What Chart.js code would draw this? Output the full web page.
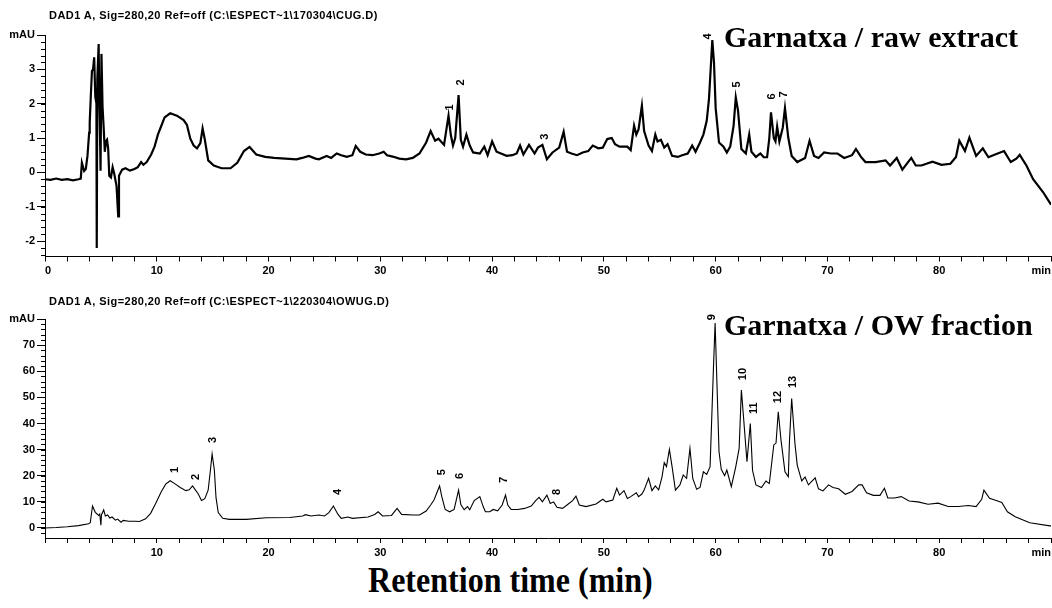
<!DOCTYPE html>
<html>
<head>
<meta charset="utf-8">
<script src="https://cdn.jsdelivr.net/npm/chart.js@4.4.1/dist/chart.umd.min.js"></script>
<style>
  body { margin: 0; background: #fff; }
  #wrap { position: relative; width: 1052px; height: 608px; overflow: hidden; }
  canvas { position: absolute; left: 0; }
  .hdr { position: absolute; left: 49px; font: bold 11px "Liberation Sans", Arial, sans-serif; line-height: 11px; letter-spacing: 0.45px; white-space: nowrap; color: #000; }
  .ttl { position: absolute; left: 724px; font: bold 30px "Liberation Serif", "Times New Roman", serif; line-height: 30px; white-space: nowrap; color: #000; }
  #xlab { position: absolute; left: 368px; top: 562px; font: bold 36px "Liberation Serif", "Times New Roman", serif; line-height: 36px; white-space: nowrap; transform: scaleX(0.89); transform-origin: left top; color: #000; }
</style>
</head>
<body>
<div id="wrap">
  <canvas id="rawChart" width="1052" height="280" style="top:0px"></canvas>
  <canvas id="owChart" width="1052" height="275" style="top:285px"></canvas>
  <div class="hdr" style="top:10px">DAD1 A, Sig=280,20 Ref=off  (C:\ESPECT~1\170304\CUG.D)</div>
  <div class="hdr" style="top:296px">DAD1 A, Sig=280,20 Ref=off  (C:\ESPECT~1\220304\OWUG.D)</div>
  <div class="ttl" style="top:22px">Garnatxa / raw extract</div>
  <div class="ttl" style="top:310px">Garnatxa / OW fraction</div>
  <div id="xlab">Retention time (min)</div>
</div>
<script>
// raw extract trace (min, mAU)
const rawTime = [0,0.5,1,1.5,2,2.5,3,3.2,3.3,3.5,3.65,3.8,3.95,4.0,4.1,4.2,4.3,4.4,4.5,4.6,4.63,4.68,4.8,4.85,4.9,4.97,5.05,5.15,5.25,5.35,5.45,5.55,5.65,5.75,5.9,6.05,6.2,6.4,6.55,6.62,6.9,7.2,7.6,8.0,8.3,8.6,8.8,9.1,9.5,9.8,10.1,10.4,10.7,11.2,11.8,12.4,12.7,13.0,13.3,13.6,13.9,14.1,14.3,14.6,15.1,15.8,16.6,17.2,17.8,18.3,18.9,19.7,20.5,21.5,22.5,23.0,23.6,24.2,24.5,25.2,25.6,26.1,26.5,27.0,27.5,27.8,28.2,28.7,29.3,29.9,30.3,30.6,31.1,31.7,32.3,32.9,33.5,34.1,34.5,34.9,35.2,35.7,36.1,36.3,36.5,36.7,37.0,37.2,37.4,37.7,38.0,38.3,38.9,39.3,39.6,40.0,40.4,41.3,41.8,42.2,42.5,42.8,43.3,43.8,44.1,44.5,44.9,45.4,46.0,46.4,46.7,47.1,47.6,48.1,48.6,49.0,49.5,49.9,50.3,50.7,51.0,51.4,52.1,52.4,52.7,52.9,53.1,53.4,53.6,54.0,54.3,54.6,54.8,55.1,55.4,55.7,56.1,56.6,57.0,57.5,57.9,58.2,58.6,58.9,59.2,59.4,59.7,59.85,60.0,60.3,60.7,61.0,61.3,61.6,61.8,62.0,62.3,62.7,63.0,63.2,63.6,64.0,64.3,64.6,64.8,64.95,65.2,65.35,65.5,65.7,66.0,66.2,66.5,66.8,67.3,68.0,68.4,68.8,69.2,69.7,70.3,70.9,71.5,72.2,72.55,73.0,73.4,74.3,75.2,75.6,76.2,76.7,77.5,77.9,78.4,79.4,80.2,81.0,81.5,81.8,82.3,82.7,83.3,83.9,84.4,85.0,85.8,86.4,86.9,87.2,87.8,88.4,89.3,90.0];
const rawMAU = [-0.2,-0.22,-0.18,-0.22,-0.2,-0.23,-0.2,-0.18,0.28,0.04,0.1,0.48,1.16,1.45,2.23,2.95,3.0,3.35,2.2,2.0,-2.2,2.7,3.74,2.3,1.55,0.05,3.45,1.9,1.3,0.6,0.9,0.95,0.7,-0.1,-0.15,0.15,-0.05,-0.4,-1.28,-0.1,0.08,0.12,0.05,0.1,0.15,0.3,0.22,0.3,0.52,0.75,1.1,1.35,1.6,1.72,1.65,1.52,1.38,0.98,0.78,0.7,0.85,1.28,0.95,0.35,0.2,0.12,0.12,0.28,0.62,0.74,0.52,0.45,0.42,0.4,0.38,0.42,0.48,0.4,0.38,0.48,0.42,0.55,0.5,0.45,0.5,0.77,0.6,0.52,0.5,0.55,0.6,0.5,0.46,0.4,0.38,0.42,0.55,0.87,1.2,0.92,0.98,0.8,1.65,1.1,0.78,1.0,2.25,0.95,0.75,1.1,0.78,0.58,0.55,0.75,0.5,0.9,0.6,0.48,0.5,0.55,0.78,0.52,0.8,0.55,0.72,0.8,0.38,0.58,0.72,1.18,0.6,0.55,0.5,0.58,0.62,0.78,0.7,0.72,0.97,1.0,0.82,0.75,0.75,0.65,1.36,1.1,1.25,1.94,1.2,0.78,0.62,1.1,0.9,0.95,0.72,0.82,0.48,0.45,0.5,0.55,0.78,0.6,0.87,1.1,1.5,2.13,3.85,3.2,1.87,0.87,0.75,0.58,0.75,1.35,2.18,1.8,0.68,0.55,1.1,0.6,0.45,0.55,0.44,0.44,1.0,1.75,1.0,0.9,1.33,0.9,1.3,1.87,1.0,0.48,0.3,0.42,0.92,0.48,0.42,0.58,0.55,0.55,0.42,0.5,0.68,0.45,0.3,0.3,0.35,0.2,0.42,0.08,0.42,0.2,0.2,0.31,0.22,0.25,0.45,0.92,0.62,1.01,0.48,0.7,0.44,0.52,0.62,0.3,0.4,0.51,0.2,-0.2,-0.58,-0.94];

// OW fraction trace (min, mAU)
const owTime = [0,1,2,3,3.9,4.05,4.25,4.5,4.8,4.9,5.0,5.05,5.25,5.4,5.6,5.8,6.0,6.3,6.5,6.8,7.0,7.5,8.1,8.45,9.0,9.45,9.9,10.4,10.8,11.2,11.6,12.1,12.6,12.9,13.2,13.45,13.7,14.0,14.3,14.6,14.8,14.95,15.15,15.3,15.5,15.9,16.5,18.0,19.8,21.9,23.05,23.3,23.8,24.5,25.0,25.4,25.8,26.2,26.5,27.1,27.5,28.9,29.5,29.8,30.2,31.0,31.5,31.9,32.9,33.5,34.1,34.5,34.8,35.3,35.5,35.8,36.2,36.6,37.0,37.2,37.5,37.8,38.0,38.4,38.9,39.2,39.4,39.8,40.1,40.5,40.9,41.2,41.4,41.7,42.3,42.9,43.5,43.9,44.2,44.5,44.9,45.2,45.5,45.8,46.3,46.7,47.2,47.5,47.8,48.4,49.3,49.9,50.2,50.8,51.15,51.4,51.8,52.1,52.4,52.9,53.1,53.4,53.6,54.0,54.3,54.6,54.9,55.2,55.4,55.6,55.86,56.1,56.4,56.8,57.1,57.4,57.7,57.95,58.3,58.6,58.9,59.2,59.5,59.8,59.95,60.1,60.3,60.5,60.8,61.0,61.4,61.8,62.1,62.3,62.5,62.8,63.1,63.3,63.6,64.1,64.5,64.8,65.2,65.4,65.6,65.85,66.2,66.5,66.6,66.8,67.1,67.3,67.7,68.0,68.3,68.9,69.2,69.6,70.1,70.5,71.0,71.6,72.2,72.8,73.1,73.5,74.1,74.7,75.1,75.4,76.0,76.6,77.3,78.1,79.0,79.9,80.8,81.7,82.6,83.3,83.8,84.0,84.5,85.1,85.6,86.1,86.8,88.1,89.9,90.0];
const owMAU = [0.0,0.2,0.5,0.9,1.6,2.0,8.4,6.0,4.8,5.4,1.1,5.0,6.9,4.6,5.0,3.8,4.2,3.0,3.4,2.2,2.9,2.6,2.6,2.5,3.5,5.6,9.4,13.9,16.8,18.1,17.0,15.5,14.3,14.6,16.1,14.6,13.1,10.5,11.2,14.6,22.2,28.3,22.2,11.6,5.9,3.7,3.3,3.3,3.9,4.0,4.6,5.1,4.6,5.0,4.6,5.9,8.4,5.3,3.7,4.2,3.7,4.2,5.2,6.2,4.6,4.8,7.5,5.2,5.0,5.0,6.5,8.8,10.7,16.1,12.0,7.1,6.2,7.1,14.5,9.0,7.0,8.2,7.0,10.5,12.0,8.2,6.2,6.2,7.1,6.6,8.8,12.6,8.8,7.1,7.1,7.5,8.4,10.5,11.7,10.0,12.6,9.4,10.0,7.9,7.5,8.8,10.5,12.2,8.8,8.2,9.2,11.0,10.0,10.7,15.2,12.6,14.3,11.3,12.0,13.5,12.0,13.0,14.5,19.0,14.3,16.1,14.6,19.6,25.0,23.5,30.1,23.5,14.5,16.5,20.3,19.0,30.5,19.0,14.8,15.5,21.5,20.5,23.5,61,78.5,57.4,29.2,22.5,20.0,22.2,15.8,23.5,30.5,52.8,42.0,25.4,40.0,22.0,16.5,15.5,18.0,17.0,31.8,32.5,44.5,33.5,21.5,19.6,33.0,49.6,32.0,24.0,18.0,19.5,16.5,19.2,15.0,14.2,16.5,15.5,15.0,12.9,14.0,16.5,16.5,13.5,12.5,12.5,15.2,11.5,11.5,12.0,10.3,10.0,9.1,9.5,8.2,8.2,8.6,8.2,11.0,14.5,11.4,10.5,9.8,6.2,4.3,2.0,0.8,0.8];

// peak numbers: name, time and label height (mAU)
const rawPeakNames = ['1','2','3','4','5','6','7'];
const rawPeakTime = [36.2,37.2,44.7,59.3,61.9,65.0,66.1];
const rawPeakLabelY = [1.89,2.62,1.04,3.96,2.56,2.21,2.27];
const owPeakNames = ['1','2','3','4','5','6','7','8','9','10','11','12','13'];
const owPeakTime = [11.6,13.55,15.0,26.25,35.5,37.1,41.1,45.8,59.7,62.4,63.4,65.6,66.95];
const owPeakLabelY = [22.2,19.5,33.7,13.8,21.4,19.9,18.4,13.8,80.7,58.9,45.9,50.1,55.9];

// axes
const rawYTicks = [-2,-1,0,1,2,3,4];
const rawYLabels = ['-2','-1','0','1','2','3','mAU'];
const owYTicks = [0,10,20,30,40,50,60,70,80];
const owYLabels = ['0','10','20','30','40','50','60','70','mAU'];
const xMajorTicks = [0,10,20,30,40,50,60,70,80,90];
const rawXLabels = ['0','10','20','30','40','50','60','70','80','min'];
const owXLabels = ['','10','20','30','40','50','60','70','80','min'];

const tickFont = { family: '"Liberation Sans", Arial, sans-serif', size: 11, weight: 'bold' };

const peakLabels = {
  id: 'peakLabels',
  afterDatasetsDraw(chart, args, opts) {
    const ctx = chart.ctx;
    ctx.save();
    ctx.font = 'bold 11px "Liberation Sans", Arial, sans-serif';
    ctx.fillStyle = '#000';
    ctx.textAlign = 'center';
    ctx.textBaseline = 'middle';
    opts.names.forEach((n, i) => {
      const x = chart.scales.x.getPixelForValue(opts.times[i]);
      const y = chart.scales.y.getPixelForValue(opts.ys[i]);
      ctx.save();
      ctx.translate(x, y);
      ctx.rotate(-Math.PI / 2);
      ctx.fillText(n, 0, 0);
      ctx.restore();
    });
    ctx.restore();
  }
};

const minorTicks = {
  id: 'minorTicks',
  afterDraw(chart, args, opts) {
    const ctx = chart.ctx;
    const y = chart.scales.y;
    ctx.save();
    ctx.strokeStyle = '#000';
    ctx.lineWidth = 1;
    ctx.beginPath();
    for (let v = opts.from; v <= opts.to + 1e-9; v += opts.step) {
      const py = Math.round(y.getPixelForValue(v)) + 0.5;
      ctx.moveTo(y.right - 4, py);
      ctx.lineTo(y.right, py);
    }
    ctx.stroke();
    ctx.restore();
  }
};

function makeChart(id, time, mau, cfg) {
  const pts = time.map((t, i) => ({ x: t, y: mau[i] }));
  return new Chart(document.getElementById(id), {
    type: 'line',
    data: { datasets: [{ data: pts, borderColor: '#000', borderWidth: cfg.lineWidth, pointRadius: 0, tension: 0, fill: false }] },
    options: {
      responsive: false,
      animation: false,
      events: [],
      layout: { padding: { top: cfg.padTop, right: 1, left: 0, bottom: 0 } },
      plugins: {
        legend: { display: false },
        tooltip: { enabled: false },
        peakLabels: cfg.peaks,
        minorTicks: cfg.minor
      },
      scales: {
        x: {
          type: 'linear', min: 0, max: 90,
          ticks: {
            stepSize: 2, autoSkip: false, maxRotation: 0, align: 'inner', padding: 3,
            color: '#000', font: tickFont,
            callback: v => {
              const k = xMajorTicks.indexOf(v);
              return k >= 0 ? cfg.xLabels[k] : '';
            }
          },
          grid: { drawOnChartArea: false, drawTicks: true, tickLength: 5, color: '#000' },
          border: { display: true, color: '#000', width: 1 },
          afterFit: s => { s.height = cfg.xHeight; s.paddingLeft = 0; s.paddingRight = 0; }
        },
        y: {
          min: cfg.yMin, max: cfg.yMax,
          afterBuildTicks: s => { s.ticks = cfg.yTicks.map(v => ({ value: v })); },
          ticks: {
            padding: 2, color: '#000', font: tickFont,
            callback: v => cfg.yLabels[cfg.yTicks.indexOf(v)]
          },
          grid: { drawOnChartArea: false, drawTicks: true, tickLength: 8, color: '#000' },
          border: { display: true, color: '#000', width: 1 },
          afterFit: s => { s.width = 45; }
        }
      }
    },
    plugins: [peakLabels, minorTicks]
  });
}

makeChart('rawChart', rawTime, rawMAU, {
  lineWidth: 2.2, padTop: 35, xHeight: 23.5, yMin: -2.45, yMax: 4,
  yTicks: rawYTicks, yLabels: rawYLabels, xLabels: rawXLabels,
  peaks: { names: rawPeakNames, times: rawPeakTime, ys: rawPeakLabelY },
  minor: { from: -2.4, to: 3.8, step: 0.2 }
});

makeChart('owChart', owTime, owMAU, {
  lineWidth: 1.1, padTop: 34, xHeight: 22, yMin: -3.83, yMax: 80,
  yTicks: owYTicks, yLabels: owYLabels, xLabels: owXLabels,
  peaks: { names: owPeakNames, times: owPeakTime, ys: owPeakLabelY },
  minor: { from: -2, to: 78, step: 2 }
});
</script>
</body>
</html>
